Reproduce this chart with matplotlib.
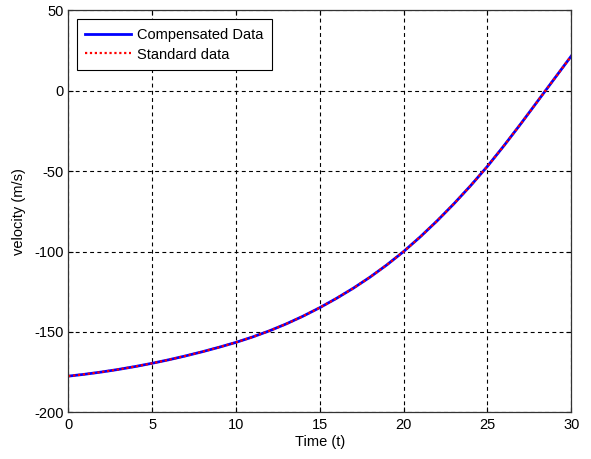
import matplotlib
matplotlib.use("Agg")
import matplotlib.pyplot as plt

# Velocity profile samples (time in s, velocity in m/s)
time_s = list(range(0, 31))
compensated = [-177.5, -176.3, -174.9, -173.3, -171.5, -169.5, -167.3, -164.9,
               -162.3, -159.5, -156.5, -153.1, -149.3, -145.0, -140.2, -134.9,
               -129.1, -122.8, -115.9, -108.3, -100.0, -90.8, -80.9, -70.3,
               -59.0, -47.0, -34.0, -20.4, -6.4, 7.6, 21.6]
standard = [-177.5, -176.3, -174.9, -173.3, -171.5, -169.5, -167.3, -164.9,
            -162.3, -159.5, -156.5, -153.1, -149.3, -145.0, -140.2, -134.9,
            -129.1, -122.8, -115.9, -108.3, -100.0, -90.8, -80.9, -70.3,
            -59.0, -47.0, -34.0, -20.4, -6.4, 7.6, 21.6]

x_ticks = [0, 5, 10, 15, 20, 25, 30]
y_ticks = [-200, -150, -100, -50, 0, 50]

plt.rcParams['font.family'] = ['Liberation Sans', 'DejaVu Sans']
plt.rcParams['axes.unicode_minus'] = False

FS = 10.5

fig = plt.figure(figsize=(5.91, 4.59), dpi=100)
ax = fig.add_axes([0.1155, 0.1017, 0.851, 0.8755])

ax.plot(time_s, compensated, color='#0000ff', lw=2.0, ls='-', label='Compensated Data')
ax.plot(time_s, standard, color='#ff0000', lw=1.6, ls=(0, (1, 1.2)), label='Standard data')

ax.set_xlim(0, 30)
ax.set_ylim(-200, 50)
ax.set_xticks(x_ticks)
ax.set_yticks(y_ticks)
ax.tick_params(direction='in', length=3.6, width=0.8, top=True, right=True,
               labelsize=FS, colors='black')
ax.tick_params(axis='x', pad=4)
ax.tick_params(axis='y', pad=3.5)
for s in ax.spines.values():
    s.set_linewidth(0.9)
    s.set_color('#333333')

ax.grid(True, color='black', ls=(0, (3.5, 3)), lw=0.8)
ax.set_axisbelow(True)

ax.set_xlabel('Time (t)', fontsize=FS, labelpad=2)
ax.set_ylabel('velocity (m/s)', fontsize=FS, labelpad=6)

leg = ax.legend(loc='upper left', fontsize=FS, frameon=True, fancybox=False,
                edgecolor='black', framealpha=1, borderaxespad=0.58,
                handlelength=3.1, handletextpad=0.42, borderpad=0.6,
                labelspacing=0.4)
leg.get_frame().set_linewidth(0.8)

fig.savefig('out.png', dpi=100, facecolor='white')
